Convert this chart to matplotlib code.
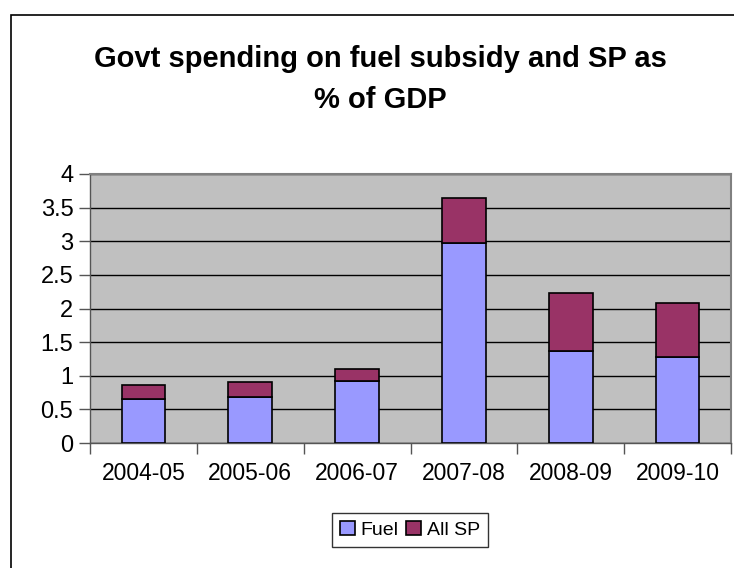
import numpy as np
import matplotlib.pyplot as plt
from matplotlib.patches import Rectangle

plt.rcParams['font.family'] = ['Liberation Sans', 'DejaVu Sans']

years = ['2004-05', '2005-06', '2006-07', '2007-08', '2008-09', '2009-10']
fuel = [0.65, 0.68, 0.92, 2.98, 1.37, 1.28]
all_sp = [0.21, 0.22, 0.18, 0.66, 0.86, 0.80]

fig = plt.figure(figsize=(7.34, 5.68), dpi=100)
# outer chart frame (only top and left edges are inside the picture)
fig.patches.append(Rectangle((10.5 / 734, -0.2), 1.2, 1.2 - 14.5 / 568,
                             transform=fig.transFigure, fill=False,
                             edgecolor='black', linewidth=1.2))

ax = fig.add_axes([90 / 734, 1 - 443 / 568, 641 / 734, 269 / 568])
ax.set_facecolor('#C0C0C0')

x = np.arange(len(years))
ax.bar(x, fuel, width=0.41, color='#9999FF', edgecolor='black', linewidth=1.2,
       label='Fuel', zorder=3)
ax.bar(x, all_sp, width=0.41, bottom=fuel, color='#993366', edgecolor='black',
       linewidth=1.2, label='All SP', zorder=3)

ax.set_xlim(-0.5, len(years) - 0.5)
ax.set_ylim(0, 4)
ax.set_yticks(np.arange(0, 4.01, 0.5))
ax.set_yticklabels(['0', '0.5', '1', '1.5', '2', '2.5', '3', '3.5', '4'])
ax.yaxis.grid(True, color='black', linewidth=1, zorder=1)
ax.set_axisbelow(True)

ax.set_xticks(x)
ax.set_xticklabels(years)
ax.set_xticks(np.arange(-0.5, len(years)), minor=True)
ax.tick_params(axis='x', which='major', length=0, pad=14, labelsize=16.5)
ax.tick_params(axis='x', which='minor', length=8, width=1, color='#555555')
ax.tick_params(axis='y', length=8, width=1, color='#555555', pad=4, labelsize=17)

for side in ['top', 'right']:
    ax.spines[side].set_color('#808080')
    ax.spines[side].set_linewidth(1.5)
for side in ['left', 'bottom']:
    ax.spines[side].set_color('#555555')
    ax.spines[side].set_linewidth(1)

fig.text(0.518, 0.86, 'Govt spending on fuel subsidy and SP as\n% of GDP',
         ha='center', va='center', fontsize=21, fontweight='bold', linespacing=1.55)

leg = fig.legend(loc='center', bbox_to_anchor=(410 / 734, 1 - 530 / 568), ncol=2,
                 fontsize=14, frameon=True, fancybox=False, handlelength=0.75,
                 handleheight=0.75, handletextpad=0.3, columnspacing=0.4,
                 borderpad=0.4)
leg.get_frame().set_edgecolor('black')
leg.get_frame().set_linewidth(1)

fig.savefig('out.png', dpi=100)
